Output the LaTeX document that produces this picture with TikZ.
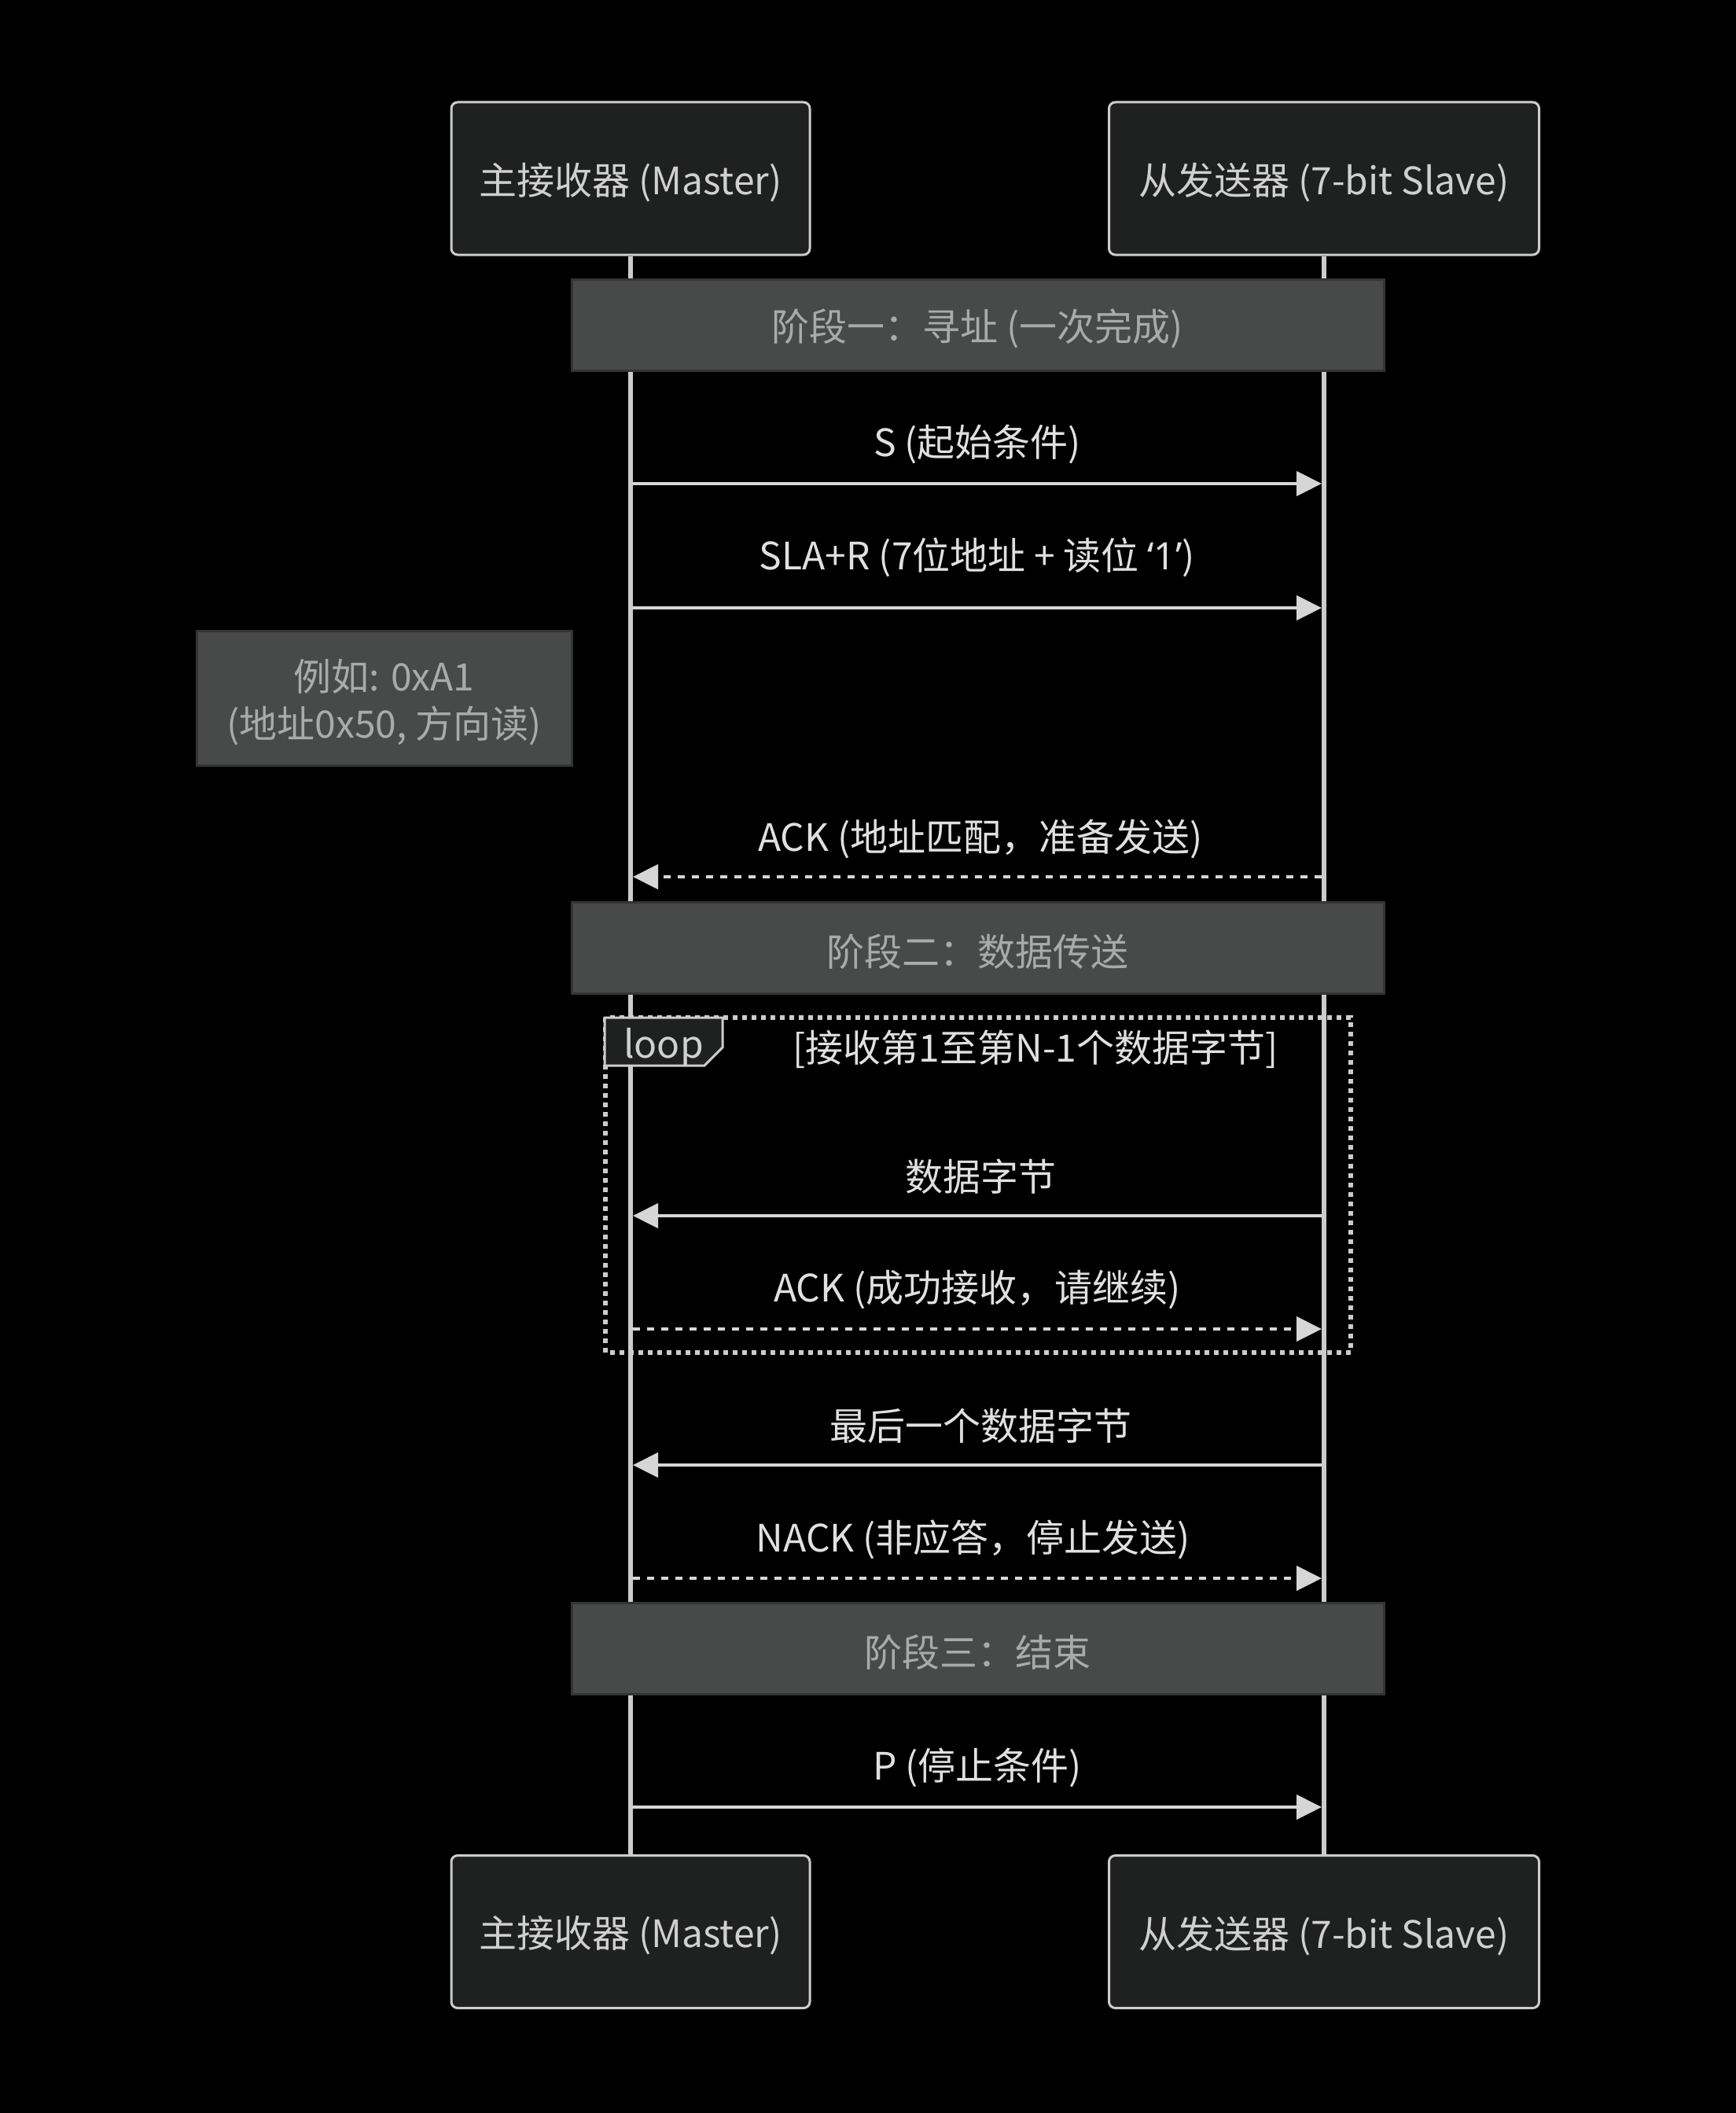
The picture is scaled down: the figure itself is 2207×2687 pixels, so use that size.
\documentclass[tikz,border=0pt]{standalone}
\usepackage{fontspec}
\setmainfont{Noto Sans CJK SC}
\newfontfamily\latf{Noto Sans}
\usetikzlibrary{arrows.meta}
\definecolor{actorfill}{HTML}{1F2020}
\definecolor{actorline}{HTML}{CCCCCC}
\definecolor{actortext}{HTML}{D0D0D0}
\definecolor{phasefill}{HTML}{484A4A}
\definecolor{phaseline}{HTML}{333535}
\definecolor{notetext}{HTML}{AAAAAA}
\definecolor{msgtext}{HTML}{E0E0E0}
\definecolor{arrowcol}{HTML}{D6D6D6}
\definecolor{lifecol}{HTML}{CCCCCC}
\definecolor{loopcol}{HTML}{CCCCCC}
\newcommand{\lowr}[1]{\raisebox{-2.5pt}[\height][\depth]{#1}}
\tikzset{
  actor/.style={draw=actorline, fill=actorfill, line width=1.5pt, rounded corners=4pt,
    text=actortext, minimum height=97pt, inner sep=0pt},
  phase/.style={draw=phaseline, fill=phasefill, line width=1.5pt, text=notetext,
    minimum width=516.5pt, minimum height=58pt, inner sep=0pt},
  notebox/.style={draw=phaseline, fill=phasefill, line width=1.5pt, text=notetext,
    minimum width=238.5pt, minimum height=85.5pt, inner sep=0pt},
  msglabel/.style={text=msgtext, inner sep=0pt},
  msg/.style={draw=arrowcol, line width=2.2pt, -{Triangle[length=16pt,width=15.5pt]}},
  reply/.style={msg, dash pattern=on 4.5pt off 4.5pt},
  lifeline/.style={draw=lifecol, line width=3pt},
  loopline/.style={draw=loopcol, line width=3pt, dash pattern=on 3pt off 3pt},
}
\begin{document}
\begin{tikzpicture}[x=0.5pt,y=-0.5pt,font=\fontsize{24pt}{30pt}\selectfont]
\useasboundingbox (0,0) rectangle (2207,2687);
\fill[black] (-20,-20) rectangle (2227,2707);

% actors
\node[actor, minimum width=228pt] (mtop) at (802,227) {\lowr{主接收器 (Master)}};
\node[actor, minimum width=273.5pt] (stop) at (1684,227) {\lowr{从发送器 (7-bit Slave)}};
\node[actor, minimum width=228pt] (mbot) at (802,2456.5) {\lowr{主接收器 (Master)}};
\node[actor, minimum width=273.5pt] (sbot) at (1684,2456.5) {\lowr{从发送器 (7-bit Slave)}};

% lifelines
\draw[lifeline] (mtop.south) -- (mbot.north);
\draw[lifeline] (stop.south) -- (sbot.north);

% phases
\node[phase] (ph1) at (1243.5,413) {\lowr{阶段一：寻址 (一次完成)}};
\node[phase] (ph2) at (1243.5,1205.5) {\lowr{阶段二：数据传送}};
\node[phase] (ph3) at (1243.5,2096.5) {\lowr{阶段三：结束}};

% note
\node[notebox] (note) at (488.5,887.5) {\raisebox{-4.5pt}[\height][\depth]{\begin{tabular}{@{}c@{}}例如: 0xA1\\(地址0x50, 方向读)\end{tabular}}};

% message anchor points on lifelines (arrow tips touch the lifeline edge)
\foreach \n/\y in {1/615,2/773,3/1115,4/1546,5/1690,6/1863,7/2007,8/2298}{
  \coordinate (m\n) at (805,\y);
  \coordinate (s\n) at (1681,\y);
}

% loop frame
\draw[loopline] (770,1294) rectangle (1718,1720);
\draw[fill=actorfill, draw=loopcol, line width=1.5pt] (769,1294) -- (919,1294) -- (919,1332) -- (896,1355) -- (769,1355) -- cycle;
\node[text=actortext, inner sep=0pt] (looplbl) at (844,1332) {loop};
\node[msglabel] (loopcond) at (1317,1334) {[接收第1至第N-1个数据字节]};

% messages
\node[msglabel] (l1) at (1243,565) {S (起始条件)};
\draw[msg] (m1) -- (s1);
\node[msglabel] (l2) at (1243,709) {SLA+R (7位地址 + 读位 {\latf ‘1’})};
\draw[msg] (m2) -- (s2);
\node[msglabel] (l3) at (1247,1067) {ACK (地址匹配，准备发送)};
\draw[reply] (s3) -- (m3);
\node[msglabel] (l4) at (1247,1496) {数据字节};
\draw[msg] (s4) -- (m4);
\node[msglabel] (l5) at (1243,1640) {ACK (成功接收，请继续)};
\draw[reply] (m5) -- (s5);
\node[msglabel] (l6) at (1247,1813) {最后一个数据字节};
\draw[msg] (s6) -- (m6);
\node[msglabel] (l7) at (1238,1958) {NACK (非应答，停止发送)};
\draw[reply] (m7) -- (s7);
\node[msglabel] (l8) at (1243,2248) {P (停止条件)};
\draw[msg] (m8) -- (s8);
\end{tikzpicture}
\end{document}
